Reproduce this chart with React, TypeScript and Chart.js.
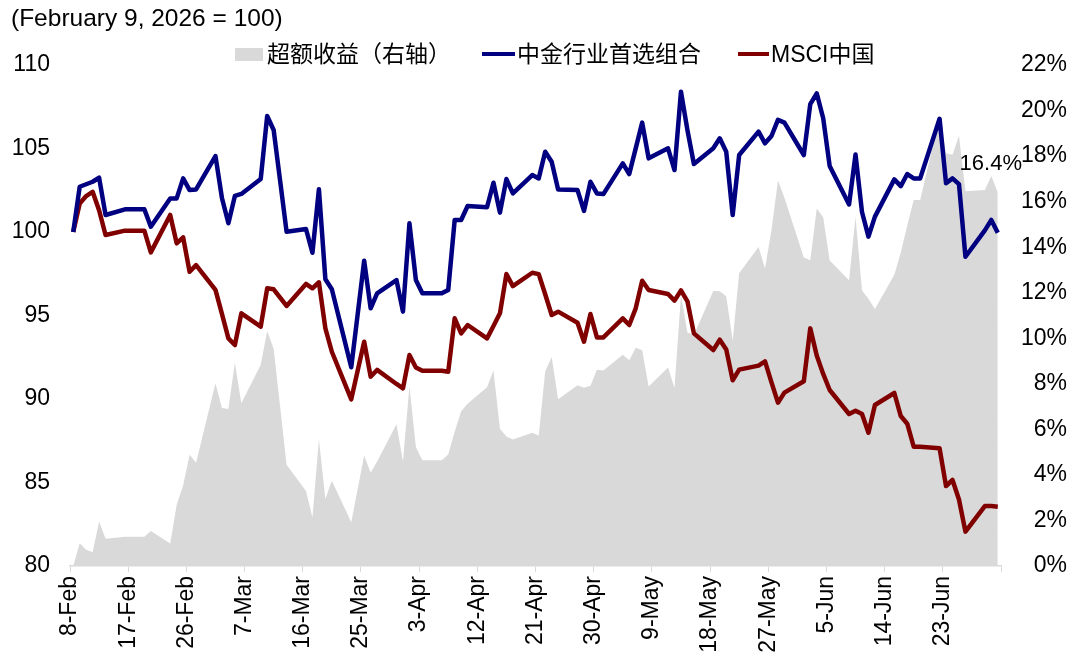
import React, { useEffect, useRef } from 'react';
import { Chart, registerables } from 'chart.js';

Chart.register(...registerables);

// trading days (only the days where one of the lines bends are kept)
const DATES = [
  '2026-02-08', '2026-02-09', '2026-02-10', '2026-02-11', '2026-02-12', '2026-02-13',
  '2026-02-16', '2026-02-19', '2026-02-20', '2026-02-23', '2026-02-24', '2026-02-25',
  '2026-02-26', '2026-02-27', '2026-03-02', '2026-03-03', '2026-03-04', '2026-03-05',
  '2026-03-06', '2026-03-09', '2026-03-10', '2026-03-11', '2026-03-12', '2026-03-13',
  '2026-03-16', '2026-03-17', '2026-03-18', '2026-03-19', '2026-03-20', '2026-03-23',
  '2026-03-24', '2026-03-25', '2026-03-26', '2026-03-27', '2026-03-30', '2026-03-31',
  '2026-04-01', '2026-04-02', '2026-04-03', '2026-04-06', '2026-04-07', '2026-04-08',
  '2026-04-09', '2026-04-10', '2026-04-13', '2026-04-14', '2026-04-15', '2026-04-16',
  '2026-04-17', '2026-04-20', '2026-04-21', '2026-04-22', '2026-04-23', '2026-04-24',
  '2026-04-27', '2026-04-28', '2026-04-29', '2026-04-30', '2026-05-01', '2026-05-04',
  '2026-05-05', '2026-05-06', '2026-05-07', '2026-05-08', '2026-05-11', '2026-05-12',
  '2026-05-13', '2026-05-14', '2026-05-15', '2026-05-18', '2026-05-19', '2026-05-20',
  '2026-05-21', '2026-05-22', '2026-05-25', '2026-05-26', '2026-05-27', '2026-05-28',
  '2026-05-29', '2026-06-01', '2026-06-02', '2026-06-03', '2026-06-04', '2026-06-05',
  '2026-06-08', '2026-06-09', '2026-06-10', '2026-06-11', '2026-06-12', '2026-06-15',
  '2026-06-16', '2026-06-17', '2026-06-18', '2026-06-19', '2026-06-22', '2026-06-23',
  '2026-06-24', '2026-06-25', '2026-06-26', '2026-06-29', '2026-06-30', '2026-07-01',
];

// 中金行业首选组合 (left axis)
const PORTFOLIO = [
  100.0, 102.71, 102.86, 103.01, 103.25, 101.02,
  101.36, 101.36, 100.32, 102.01, 102.01, 103.21,
  102.51, 102.55, 104.55, 102.04, 100.52, 102.16,
  102.28, 103.17, 106.95, 106.11, 103.07, 100.02,
  100.18, 98.76, 102.56, 97.17, 96.57, 91.9,
  95.09, 98.28, 95.43, 96.33, 97.12, 95.23,
  100.52, 97.12, 96.33, 96.33, 96.53, 100.72,
  100.72, 101.56, 101.48, 102.95, 101.16, 103.17,
  102.31, 103.41, 103.21, 104.81, 104.21, 102.55,
  102.51, 101.26, 103.01, 102.31, 102.27, 104.11,
  103.47, 105.01, 106.55, 104.41, 105.01, 103.71,
  108.4, 106.1, 104.07, 105.01, 105.61, 104.81,
  101.02, 104.61, 106.01, 105.31, 105.75, 106.71,
  106.55, 104.61, 107.66, 108.3, 106.81, 103.95,
  101.65, 104.64, 101.2, 99.72, 100.92, 103.15,
  102.75, 103.47, 103.21, 103.21, 106.78, 102.92,
  103.21, 102.87, 98.52, 100.1, 100.72, 99.95,
];

// MSCI中国 (left axis)
const MSCI_CHINA = [
  100.0, 101.71, 102.15, 102.41, 101.3, 99.82,
  100.08, 100.08, 98.78, 101.02, 99.32, 99.68,
  97.62, 98.02, 96.53, 95.1, 93.63, 93.23,
  95.13, 94.33, 96.63, 96.57, 96.07, 95.57,
  96.89, 96.63, 96.99, 94.23, 92.83, 89.98,
  91.7, 93.43, 91.34, 91.74, 90.9, 90.64,
  92.63, 91.89, 91.69, 91.69, 91.63, 94.83,
  93.93, 94.43, 93.63, 94.37, 95.13, 97.48,
  96.76, 97.56, 97.48, 96.27, 95.03, 95.23,
  94.57, 93.43, 95.09, 93.69, 93.69, 94.83,
  94.43, 95.43, 97.08, 96.53, 96.29, 95.89,
  96.5, 95.85, 93.93, 92.93, 93.55, 92.97,
  91.12, 91.76, 92.0, 92.25, 91.0, 89.78,
  90.38, 91.06, 94.23, 92.6, 91.5, 90.54,
  89.1, 89.3, 89.1, 87.98, 89.64, 90.36,
  88.98, 88.52, 87.14, 87.14, 87.05, 84.79,
  85.15, 83.98, 82.06, 83.59, 83.59, 83.55,
];

// 超额收益 in % (right axis)
const EXCESS = [
  0.0, 1.0, 0.71, 0.6, 1.95, 1.2,
  1.28, 1.28, 1.54, 0.99, 2.69, 3.53,
  4.89, 4.53, 8.02, 6.94, 6.89, 8.93,
  7.15, 8.84, 10.32, 9.54, 7.0, 4.45,
  3.29, 2.13, 5.57, 2.94, 3.74, 1.92,
  3.39, 4.85, 4.09, 4.59, 6.22, 4.59,
  7.89, 5.23, 4.64, 4.64, 4.9, 5.89,
  6.79, 7.13, 7.85, 8.58, 6.03, 5.69,
  5.55, 5.85, 5.73, 8.54, 9.18, 7.32,
  7.94, 7.83, 7.92, 8.62, 8.58, 9.28,
  9.04, 9.58, 9.47, 7.88, 8.72, 7.82,
  11.9, 10.25, 10.14, 12.08, 12.06, 11.84,
  9.9, 12.85, 14.01, 13.06, 14.75, 16.93,
  16.17, 13.55, 13.43, 15.7, 15.31, 13.41,
  12.55, 15.34, 12.1, 11.74, 11.28, 12.79,
  13.77, 14.95, 16.07, 16.07, 19.73, 18.13,
  18.06, 18.89, 16.46, 16.51, 17.13, 16.4,
];

const TICK_DATES = [
  '2026-02-08', '2026-02-17', '2026-02-26', '2026-03-07', '2026-03-16', '2026-03-25',
  '2026-04-03', '2026-04-12', '2026-04-21', '2026-04-30', '2026-05-09', '2026-05-18',
  '2026-05-27', '2026-06-05', '2026-06-14', '2026-06-23', '2026-07-02',
];
const TICK_LABELS = [
  '8-Feb', '17-Feb', '26-Feb', '7-Mar', '16-Mar', '25-Mar',
  '3-Apr', '12-Apr', '21-Apr', '30-Apr', '9-May', '18-May',
  '27-May', '5-Jun', '14-Jun', '23-Jun', '',
];

const FONT = '"Liberation Sans", Arial, "Noto Sans CJK SC", sans-serif';
const BLUE = '#000080';
const RED = '#800000';
const GREY = '#d9d9d9';

const dayIndex = (d: string) =>
  (new Date(d + 'T00:00:00Z').getTime() - new Date(DATES[0] + 'T00:00:00Z').getTime()) / 86400000;

// each day sits in the middle of its slot, ticks are on the slot edges
const tickValues = TICK_DATES.map(d => dayIndex(d) - 0.5);

const toPoints = (values: number[]) => DATES.map((d, i) => ({ x: dayIndex(d), y: values[i] }));

const endLabel = {
  id: 'endLabel',
  afterDatasetsDraw(chart: any) {
    const meta = chart.getDatasetMeta(2);
    const pt = meta.data[meta.data.length - 1];
    if (!pt) return;
    const ctx = chart.ctx;
    ctx.save();
    ctx.font = `22px ${FONT}`;
    ctx.fillStyle = '#000';
    ctx.textAlign = 'center';
    ctx.textBaseline = 'middle';
    ctx.fillText(`${EXCESS[EXCESS.length - 1].toFixed(1)}%`, pt.x - 7, pt.y - 29);
    ctx.restore();
  },
};

const textStyle: React.CSSProperties = {
  position: 'absolute',
  fontFamily: FONT,
  fontSize: '23px',
  lineHeight: '26px',
  color: '#000',
  whiteSpace: 'nowrap',
};

export default function App() {
  const canvasRef = useRef<HTMLCanvasElement | null>(null);
  const chartRef = useRef<Chart | null>(null);

  useEffect(() => {
    document.body.style.margin = '0';
    if (!canvasRef.current) return;
    if (chartRef.current) chartRef.current.destroy();

    chartRef.current = new Chart(canvasRef.current, {
      type: 'line',
      data: {
        datasets: [
          {
            label: '中金行业首选组合',
            data: toPoints(PORTFOLIO),
            yAxisID: 'y',
            borderColor: BLUE,
            borderWidth: 4.5,
            borderJoinStyle: 'round',
            pointRadius: 0,
            tension: 0,
            fill: false,
            order: 0,
          },
          {
            label: 'MSCI中国',
            data: toPoints(MSCI_CHINA),
            yAxisID: 'y',
            borderColor: RED,
            borderWidth: 4.5,
            borderJoinStyle: 'round',
            pointRadius: 0,
            tension: 0,
            fill: false,
            order: 1,
          },
          {
            label: '超额收益（右轴）',
            data: toPoints(EXCESS),
            yAxisID: 'y1',
            borderWidth: 0,
            borderColor: GREY,
            backgroundColor: GREY,
            pointRadius: 0,
            tension: 0,
            fill: 'origin',
            order: 2,
          },
        ],
      },
      options: {
        responsive: false,
        animation: false,
        layout: { padding: { top: 65, left: 0, right: 13, bottom: 0 } },
        plugins: {
          legend: { display: false },
          tooltip: { enabled: false },
        },
        scales: {
          x: {
            type: 'linear',
            min: tickValues[0],
            max: tickValues[tickValues.length - 1],
            afterBuildTicks: (scale: any) => {
              scale.ticks = tickValues.map(v => ({ value: v }));
            },
            afterFit: (scale: any) => {
              scale.height = 97;
            },
            grid: {
              display: true,
              drawOnChartArea: false,
              drawTicks: true,
              tickLength: 6,
              color: GREY,
              lineWidth: 1,
            },
            border: { display: true, color: GREY, width: 1.5 },
            ticks: {
              autoSkip: false,
              minRotation: 90,
              maxRotation: 90,
              padding: 4,
              color: '#000',
              font: { family: FONT, size: 23 },
              callback: (_v: any, i: number) => TICK_LABELS[i] ?? '',
            },
          },
          y: {
            position: 'left',
            min: 80,
            max: 110,
            afterFit: (scale: any) => {
              scale.width = 70;
            },
            grid: { display: false, drawTicks: false },
            border: { display: false },
            ticks: {
              stepSize: 5,
              padding: 20,
              color: '#000',
              font: { family: FONT, size: 23 },
            },
          },
          y1: {
            position: 'right',
            min: 0,
            max: 22,
            afterFit: (scale: any) => {
              scale.width = 66;
            },
            grid: { display: false, drawTicks: false },
            border: { display: false },
            ticks: {
              stepSize: 2,
              padding: 8,
              crossAlign: 'far',
              color: '#000',
              font: { family: FONT, size: 23 },
              callback: (v: any) => `${v}%`,
            },
          },
        },
      },
      plugins: [endLabel],
    });

    return () => {
      if (chartRef.current) {
        chartRef.current.destroy();
        chartRef.current = null;
      }
    };
  }, []);

  return (
    <div style={{ position: 'relative', width: 1080, height: 663, background: '#fff', overflow: 'hidden' }}>
      <canvas ref={canvasRef} width={1080} height={663} style={{ display: 'block' }} />

      <span style={{ ...textStyle, left: 11, top: 5, fontSize: '24.5px' }}>(February 9, 2026 = 100)</span>

      {/* legend */}
      <div style={{ position: 'absolute', left: 235, top: 48, width: 28, height: 13, background: GREY }} />
      <span style={{ ...textStyle, left: 267, top: 41 }}>超额收益（右轴）</span>
      <div style={{ position: 'absolute', left: 482, top: 52, width: 33, height: 4, background: BLUE }} />
      <span style={{ ...textStyle, left: 517, top: 41 }}>中金行业首选组合</span>
      <div style={{ position: 'absolute', left: 738, top: 52, width: 31, height: 4, background: RED }} />
      <span style={{ ...textStyle, left: 771, top: 41 }}>MSCI中国</span>
    </div>
  );
}
